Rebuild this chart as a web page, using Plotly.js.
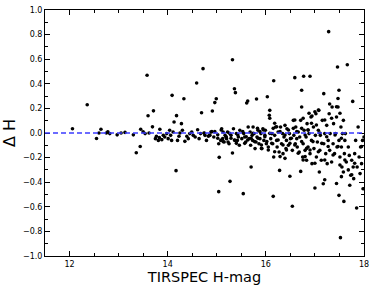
<!DOCTYPE html>
<html>
<head>
<meta charset="utf-8">
<script src="https://cdn.plot.ly/plotly-3.0.1.min.js"></script>
<style>html,body{margin:0;padding:0;background:#fff;}#chart{width:374px;height:290px;}</style>
</head>
<body>
<div id="chart"></div>
<script>
// TIRSPEC H magnitude
const hMag = [
12.06,12.36,12.55,12.60,12.64,12.75,12.78,12.82,12.97,13.05,13.13,13.30,13.36,13.44,13.45,13.50,13.54,13.58,13.60,13.62,13.69,13.71,
13.75,13.77,13.81,13.83,13.84,13.88,13.91,13.94,13.98,14.01,14.04,14.06,14.08,14.09,14.11,14.13,14.17,14.18,14.20,14.23,14.25,14.28,14.30,14.33,14.35,14.39,14.42,14.45,14.49,14.52,
14.56,14.59,14.61,14.64,14.67,14.69,14.72,14.74,14.76,14.79,14.83,14.86,14.88,14.90,14.91,14.94,14.96,14.99,15.02,15.04,15.05,15.04,15.08,15.10,15.12,15.13,15.15,15.17,15.19,15.20,15.22,15.23,15.25,15.27,15.29,15.32,15.32,15.34,15.36,15.37,15.38,15.40,15.42,15.44,15.46,15.47,15.51,
15.54,15.55,15.57,15.59,15.61,15.63,15.64,15.66,15.68,15.69,15.70,15.72,15.73,15.74,15.76,15.78,15.80,15.81,15.82,15.84,15.86,15.88,15.90,15.92,15.94,15.96,15.98,15.99,16.01,16.03,16.05,16.07,16.08,16.10,16.12,16.14,16.15,16.16,16.16,16.18,16.20,16.22,16.23,16.25,16.27,16.28,16.30,16.32,16.34,16.35,16.37,16.39,16.41,16.42,16.43,16.46,16.48,16.49,16.50,
16.54,16.54,16.56,16.57,16.59,16.60,16.61,16.63,16.64,16.66,16.68,16.69,16.71,16.71,16.73,16.73,16.75,16.76,16.77,16.78,16.80,16.82,16.83,16.84,16.86,16.88,16.90,16.90,16.92,16.93,16.94,16.97,16.98,17.00,17.01,17.02,17.03,17.05,17.07,17.08,17.09,17.10,17.11,17.13,17.15,17.17,17.18,17.18,17.20,17.22,17.24,17.25,17.27,17.28,17.29,17.30,17.31,17.34,17.35,17.37,17.38,17.40,17.42,17.44,17.45,17.46,17.47,17.49,17.49,17.49,17.51,17.52,
17.53,17.54,17.55,17.56,17.58,17.58,17.59,17.60,17.61,17.62,17.64,17.66,17.68,17.70,17.71,17.73,17.75,17.77,17.78,17.79,17.81,17.83,17.85,17.86,17.88,17.90,17.92,17.93,17.95,17.97,17.98,18.00,
16.88,16.94,17.00,17.07,17.30,17.47,17.44,17.51,17.34,17.20,16.93,17.03,16.86,17.10,17.24,17.41,17.54,16.96,17.14,17.27,17.47,16.90,17.07,17.37,17.20,17.61,17.00,17.51,17.95,17.81,17.68,17.54,17.20,17.44,17.75,
15.83,15.88,15.95,15.84,15.98,16.08,16.15,16.22,16.29,16.39,16.46,16.56,16.63,16.73,16.80,16.86,15.91,16.02,16.12,16.25,16.35,16.49,16.59,16.73,16.83,16.05,16.18,16.42,16.66,16.80,15.91,16.29,16.39,16.76,16.52,16.08,16.18,16.59,16.76,
14.75,14.85,14.96,15.09,15.19,15.26,15.29,15.36,15.43,15.53,15.60,15.63,15.70,15.74,15.77,15.57,15.40,15.13,15.02
];
// Delta H
const deltaH = [
0.035,0.23,-0.045,0.0,0.03,0.0,0.01,-0.005,-0.015,0.0,0.005,-0.015,-0.16,-0.11,0.03,0.01,-0.005,0.47,0.14,0.0,0.05,0.18,
-0.046,-0.027,-0.06,-0.038,0.03,-0.054,-0.019,-0.033,-0.005,-0.046,0.022,-0.019,-0.06,0.306,0.008,0.089,-0.306,0.141,-0.06,-0.027,0.0,0.076,0.022,0.279,-0.068,-0.027,-0.046,-0.005,0.008,-0.019,
-0.033,0.407,0.027,-0.046,-0.005,0.165,0.523,0.0,-0.019,-0.06,-0.027,-0.019,0.008,0.011,0.179,-0.033,0.247,0.279,-0.014,-0.087,-0.198,-0.477,-0.06,0.035,-0.046,0.008,-0.073,-0.019,-0.033,-0.046,0.008,-0.073,-0.087,-0.393,-0.019,-0.163,0.596,0.035,0.36,-0.06,0.328,-0.005,-0.06,-0.033,-0.1,0.022,-0.046,
-0.493,-0.005,-0.033,-0.073,0.244,0.26,0.049,-0.046,0.008,-0.1,-0.276,-0.019,-0.06,0.049,-0.005,-0.127,-0.073,0.276,-0.033,0.022,-0.087,-0.046,-0.005,-0.127,0.035,-0.06,-0.019,0.022,-0.087,0.295,-0.114,0.144,0.184,-0.046,-0.005,-0.087,-0.515,0.425,-0.195,-0.019,0.049,-0.06,-0.114,0.008,-0.154,-0.304,0.049,-0.087,-0.005,-0.168,-0.033,0.062,-0.127,-0.06,0.035,-0.1,-0.005,-0.352,-0.046,
-0.596,-0.141,0.103,-0.019,0.45,-0.087,0.049,-0.046,-0.114,0.008,-0.154,-0.033,-0.312,0.103,0.211,0.347,-0.195,-0.087,0.461,0.022,-0.141,-0.033,-0.222,0.076,-0.114,-0.005,-0.168,0.461,0.13,-0.06,-0.249,0.049,-0.127,-0.447,-0.019,0.157,-0.195,-0.073,0.022,0.184,-0.317,-0.141,-0.019,-0.222,0.103,-0.412,0.32,-0.087,-0.005,-0.168,0.062,-0.249,-0.06,0.824,0.157,-0.141,-0.005,-0.236,0.211,-0.087,0.076,-0.168,-0.005,0.13,-0.114,0.537,0.211,0.347,-0.507,-0.06,-0.195,-0.851,
0.049,-0.114,-0.276,-0.005,-0.317,0.103,-0.556,-0.168,-0.06,-0.005,-0.236,0.555,-0.114,-0.182,-0.425,-0.344,-0.222,0.257,-0.276,-0.371,-0.168,-0.06,-0.61,-0.276,0.049,-0.195,-0.33,-0.114,-0.249,-0.06,-0.453,-0.033,
0.16,0.138,0.173,0.187,0.236,0.28,0.214,0.16,0.12,0.106,0.079,0.065,0.024,0.0,-0.03,-0.016,-0.043,-0.07,-0.084,-0.11,-0.11,-0.138,-0.152,-0.179,-0.22,-0.22,-0.246,-0.26,-0.11,-0.246,-0.30,-0.355,-0.38,-0.41,-0.34,
0.038,0.011,0.024,-0.043,-0.03,-0.003,0.038,0.051,0.011,-0.016,0.024,0.038,0.011,0.038,-0.016,0.024,-0.098,-0.07,-0.084,-0.057,-0.098,-0.084,-0.098,-0.07,-0.125,-0.138,-0.152,-0.138,-0.165,-0.192,-0.125,-0.192,-0.206,-0.22,-0.043,0.12,0.079,0.106,0.12,
-0.003,-0.016,0.011,0.024,-0.03,-0.003,-0.043,-0.057,-0.016,0.011,-0.03,-0.057,-0.043,-0.003,-0.07,-0.084,-0.084,-0.07,-0.043
];
const refLevel = 0;
const xRange = [11.5, 18];
const yRange = [-1.0, 1.0];
const yTickVals = [-1.0,-0.8,-0.6,-0.4,-0.2,0.0,0.2,0.4,0.6,0.8,1.0];
const yTickText = ['\u22121.0','\u22120.8','\u22120.6','\u22120.4','\u22120.2','0.0','0.2','0.4','0.6','0.8','1.0'];
const xTickVals = [12,14,16,18];

const traces = [
  {x: hMag, y: deltaH, mode: 'markers', type: 'scatter',
   marker: {color: '#000', size: 3.6}, hoverinfo: 'skip', showlegend: false}
];

const axisCommon = {
  showline: true, linecolor: '#000', linewidth: 1, mirror: 'allticks',
  ticks: 'inside', ticklen: 5, tickcolor: '#000', tickwidth: 1,
  showgrid: false, zeroline: false,
  tickfont: {family: 'DejaVu Sans', size: 8, color: '#000'}
};

const layout = {
  width: 374, height: 290,
  margin: {l: 45, r: 10, t: 10, b: 34},
  paper_bgcolor: '#fff', plot_bgcolor: '#fff',
  xaxis: Object.assign({}, axisCommon, {
    range: xRange, tickvals: xTickVals, ticktext: xTickVals.map(String),
    minor: {dtick: 0.5, tick0: 12, ticks: 'inside', ticklen: 3, tickcolor: '#000', showgrid: false},
    title: {text: 'TIRSPEC H-mag', font: {family: 'DejaVu Sans', size: 14.5, color: '#000'}, standoff: 3}
  }),
  yaxis: Object.assign({}, axisCommon, {
    range: yRange, tickvals: yTickVals, ticktext: yTickText,
    minor: {dtick: 0.1, tick0: 0, ticks: 'inside', ticklen: 3, tickcolor: '#000', showgrid: false},
    title: {text: '\u0394 H', font: {family: 'DejaVu Sans', size: 16, color: '#000'}, standoff: 5}
  }),
  shapes: [{type: 'line', xref: 'paper', x0: 0, x1: 1, yref: 'y', y0: refLevel, y1: refLevel,
            line: {color: '#3b3bff', width: 1.3, dash: '5px,3px'}}]
};

Plotly.newPlot('chart', traces, layout, {displayModeBar: false, staticPlot: true});
</script>
</body>
</html>
